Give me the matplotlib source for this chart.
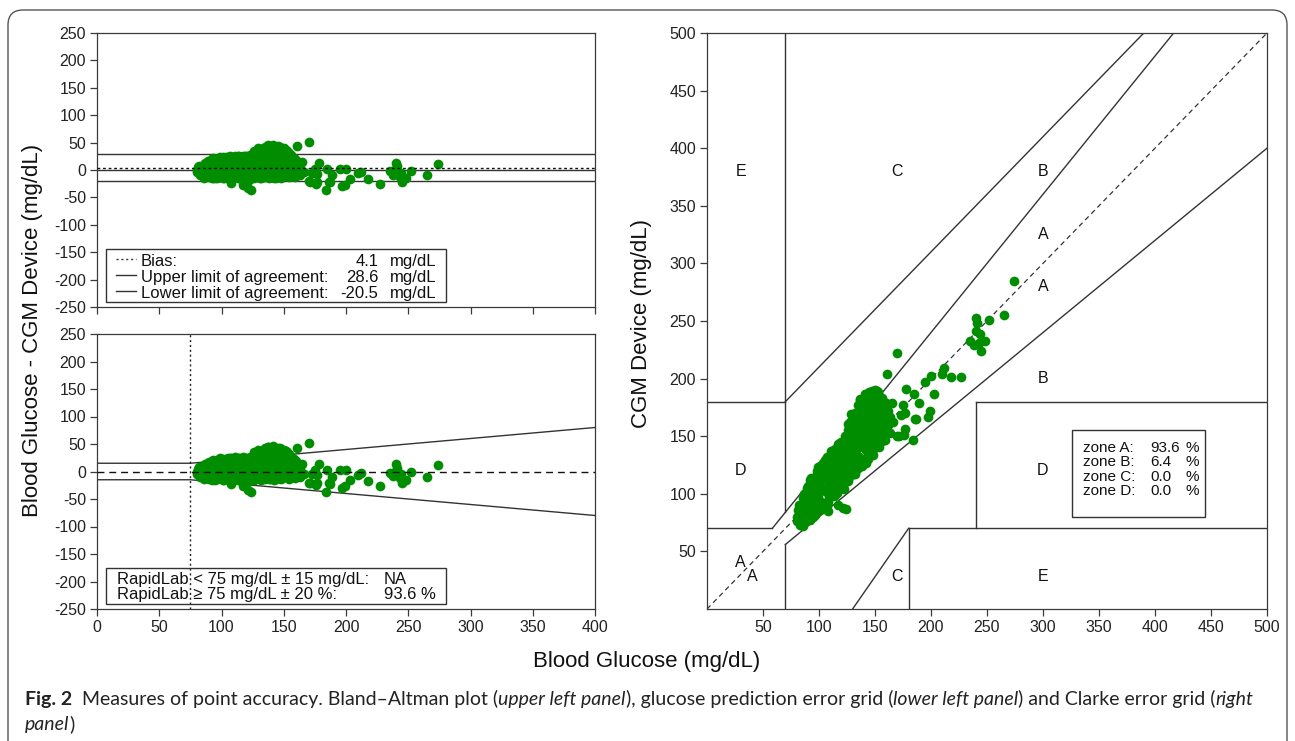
import matplotlib
matplotlib.use('Agg')
import matplotlib.pyplot as plt
from matplotlib.patches import Rectangle, FancyBboxPatch

plt.rcParams['font.family'] = ['Liberation Sans', 'DejaVu Sans']
plt.rcParams['axes.unicode_minus'] = False

# ---------------- data ----------------
# reference blood glucose (mg/dL)
bg = [
    80, 80, 81, 82, 82, 83,
    85, 85, 86, 86, 88, 88, 88, 89,
    91, 91, 91, 92, 92, 94, 94, 95, 95,
    97, 97, 97, 98, 100, 100, 100, 101, 101,
    103, 103, 103, 104, 106, 106, 106, 107, 107,
    109, 109, 109, 109, 112, 112, 112, 113, 113,
    115, 115, 115, 116, 116, 118, 118, 118, 119,
    121, 121, 121, 121, 122, 124, 124, 124, 125,
    127, 127, 127, 127, 128, 130, 130, 130, 130, 131, 131,
    133, 133, 133, 133, 133, 136, 136, 136, 136, 137, 137,
    139, 139, 139, 139, 139, 142, 142, 142, 142, 142, 142,
    145, 145, 145, 145, 145, 148, 148, 148, 148, 148, 148,
    151, 151, 151, 151, 151, 154, 154, 154, 154, 154,
    157, 157, 157, 157, 160, 160, 160, 161, 163, 163, 165, 166,
    84, 84, 84, 87, 87, 87, 87,
    90, 90, 90, 90, 93, 93, 93, 93, 93,
    96, 96, 96, 96, 99, 99, 99, 99, 99,
    102, 102, 102, 102, 102, 105, 105, 105, 105, 105,
    108, 108, 108, 108, 108, 111, 111, 111, 111, 111,
    114, 114, 114, 114, 114, 117, 117, 117, 117, 117,
    120, 120, 120, 120, 120, 123, 123, 123, 123, 123,
    126, 126, 126, 126, 126, 126, 129, 129, 129, 129, 129, 129,
    132, 132, 132, 132, 132, 132, 135, 135, 135, 135, 135, 135,
    138, 138, 138, 138, 138, 138, 141, 141, 141, 141, 141, 141,
    144, 144, 144, 144, 144, 144, 147, 147, 147, 147, 147, 147,
    150, 150, 150, 150, 150, 153, 153, 153, 153, 153,
    156, 156, 156, 156, 159, 159, 159, 162, 162,
    170, 161, 178, 185, 195, 200, 184, 197, 199, 203, 210, 212,
    218, 227, 189, 187, 177, 173, 176, 171, 175, 177, 186, 170,
    240, 241, 235, 238, 244, 245, 248, 252, 265, 274, 240, 243,
    124, 121, 117, 108, 152, 141, 137, 158,
]
# difference between the CGM device and blood glucose (mg/dL)
diff = [
    0, -4, 5, -3, 8, -10,
    2, -6, 10, -14, 0, 12, -8, 16,
    4, -10, 14, 20, -15, -4, 8, 19, -15,
    0, 12, -12, 22, -6, 6, 17, 23, -15,
    2, 14, -12, 23, -4, 8, 19, -18, 25,
    0, 12, 22, -12, -6, 6, 17, 25, -15,
    2, 14, -12, 23, -15, -4, 8, 19, 25,
    0, 12, 22, -13, -18, -6, 6, 17, 26,
    2, 14, 25, -12, 34, -4, 8, 20, 31, 38, -14,
    0, 12, 23, 34, -12, -6, 6, 18, 29, 40, 44,
    2, 14, 25, 37, -13, -4, 8, 20, 31, 42, -15,
    0, 12, 23, 34, 43, -6, 6, 18, 29, 38, -14,
    2, 14, 25, 36, -10, -4, 8, 19, 31, -13,
    0, 11, 21, -8, -2, 9, 19, -6, 4, -10, 14, -4,
    -2, 6, -9, 4, -4, 13, -11,
    -3, 8, 17, -13, 1, 11, -8, 21, -14,
    -6, 5, 16, -14, -2, 9, 19, -12, 24,
    -9, 2, 11, 21, -15, -3, 8, 14, 24, -13,
    -7, 5, 16, 24, -15, 0, 11, 21, -11, 26,
    -6, 8, 18, 25, -15, -1, 11, 22, -9, 26,
    -7, 6, 17, 25, -15, -1, 11, 22, -10, 27,
    -8, 8, 19, 29, -15, 35, -2, 11, 24, 33, -10, 40,
    -9, 5, 17, 28, 38, -15, -2, 11, 23, 34, 42, -13,
    -8, 8, 20, 31, 40, -14, -1, 13, 26, 36, 44, -11,
    -9, 6, 18, 29, 39, -14, -1, 12, 24, 34, 42, -11,
    -5, 7, 19, 31, 40, -8, 3, 14, 25, 35,
    -10, 5, 16, 27, -12, 3, 14, -2, 10,
    52, 43, 13, 2, 2, 2, -37, -30, -27, -16, -6, -3,
    -17, -26, -10, -22, -21, -5, -25, -21, 2, -7, -21, -20,
    13, 7, -2, -9, -5, -21, -15, -1, -10, 11, 1, -12,
    -37, -33, -27, -23, 37, 46, 45, 22,
]
cgm = [b + d for b, d in zip(bg, diff)]

# Bland-Altman statistics
bias, upper_loa, lower_loa = 4.1, 28.6, -20.5
# glucose prediction error grid limits
peg_x = [0, 75, 400]
peg_limit = [15, 15, 80]
peg_cut = 75
# Clarke error grid zone boundaries (x0, y0, x1, y1)
clarke_segments = [
    (0, 70, 175 / 3, 70), (175 / 3, 70, 500 / 1.2, 500), (70, 84, 70, 500),
    (0, 180, 70, 180), (70, 180, 390, 500), (70, 0, 70, 56), (70, 56, 500, 400),
    (180, 0, 180, 70), (180, 70, 500, 70), (240, 70, 240, 180),
    (240, 180, 500, 180), (130, 0, 180, 70),
]
zone_labels = [
    ("E", 30, 380), ("C", 170, 380), ("B", 300, 380), ("A", 300, 325),
    ("A", 300, 280), ("B", 300, 200), ("D", 30, 120), ("D", 300, 120),
    ("A", 30, 40), ("A", 40, 28), ("C", 170, 28), ("E", 300, 28),
]
zone_names = ["zone A:", "zone B:", "zone C:", "zone D:"]
zone_pct = ["93.6", "6.4", "0.0", "0.0"]

GREEN = '#008e00'
LINE = '#333333'
MS = 7.0
W, H = 1295, 741

fig = plt.figure(figsize=(W / 100, H / 100), dpi=100)


def frac(x0, y0, x1, y1):
    return [x0 / W, 1 - y1 / H, (x1 - x0) / W, (y1 - y0) / H]


def style(ax):
    for s in ax.spines.values():
        s.set_linewidth(0.9)
        s.set_color('#3a3a3a')
    ax.tick_params(direction='out', length=5, width=0.9, color='#3a3a3a',
                   labelsize=11.5, labelcolor='#222222', pad=3)


ax1 = fig.add_axes(frac(97, 33, 595, 307))
ax2 = fig.add_axes(frac(97, 334, 595, 609))
ax3 = fig.add_axes(frac(707, 33, 1267, 609))
for ax in (ax1, ax2, ax3):
    style(ax)

# ---------------- upper left: Bland-Altman ----------------
ax1.set_xlim(0, 400)
ax1.set_ylim(-250, 250)
ax1.set_xticks(range(0, 401, 50))
ax1.set_yticks(range(-250, 251, 50))
ax1.tick_params(labelbottom=False)
for v in (upper_loa, lower_loa, 0):
    ax1.axhline(v, color=LINE, lw=1.0, zorder=1)
ax1.plot(bg, diff, 'o', color=GREEN, ms=MS, mec='none', zorder=2)
ax1.axhline(bias, color='#111111', lw=1.0, ls=(0, (2, 2)), zorder=3)
ax1.add_patch(Rectangle((7.5, -241), 272.5, 96, fill=False, ec=LINE, lw=1.0, zorder=4))
rows = [("Bias:", bias, (0, (1.5, 2))), ("Upper limit of agreement:", upper_loa, '-'),
        ("Lower limit of agreement:", lower_loa, '-')]
for i, (lab, val, ls) in enumerate(rows):
    y = -167 - i * 29
    ax1.plot([15, 31], [y + 4, y + 4], color=LINE, lw=1.0, ls=ls, zorder=5)
    ax1.text(35, y, lab, fontsize=12, va='center', color='#111111', zorder=5)
    ax1.text(226, y, f"{val:.1f}", fontsize=12, va='center', ha='right', color='#111111', zorder=5)
    ax1.text(235.5, y, "mg/dL", fontsize=12, va='center', color='#111111', zorder=5)

# ---------------- lower left: prediction error grid ----------------
ax2.set_xlim(0, 400)
ax2.set_ylim(-250, 250)
ax2.set_xticks(range(0, 401, 50))
ax2.set_yticks(range(-250, 251, 50))
ax2.plot(peg_x, peg_limit, color=LINE, lw=1.0, zorder=1)
ax2.plot(peg_x, [-v for v in peg_limit], color=LINE, lw=1.0, zorder=1)
ax2.axvline(peg_cut, color='#222222', lw=1.0, ls=(0, (1.5, 2)), zorder=1)
ax2.plot(bg, diff, 'o', color=GREEN, ms=MS, mec='none', zorder=2)
ax2.axhline(0, color='#111111', lw=1.0, ls=(0, (5, 3.5)), zorder=3)
ax2.add_patch(Rectangle((7.5, -240), 272.5, 65, fill=False, ec=LINE, lw=1.0, zorder=4))
ax2.text(16, -196, "RapidLab < 75 mg/dL ± 15 mg/dL:", fontsize=12, va='center', color='#111111', zorder=5)
ax2.text(230.5, -196, "NA", fontsize=12, va='center', color='#111111', zorder=5)
ax2.text(16, -224, "RapidLab ≥ 75 mg/dL ± 20 %:", fontsize=12, va='center', color='#111111', zorder=5)
ax2.text(230.5, -224, "93.6 %", fontsize=12, va='center', color='#111111', zorder=5)

# ---------------- right: Clarke error grid ----------------
ax3.set_xlim(0, 500)
ax3.set_ylim(0, 500)
ax3.set_xticks(range(50, 501, 50))
ax3.set_yticks(range(50, 501, 50))
ax3.plot([0, 500], [0, 500], color='#333333', lw=0.9, ls=(0, (4, 3)), zorder=1)
for x0, y0, x1, y1 in clarke_segments:
    ax3.plot([x0, x1], [y0, y1], color=LINE, lw=1.0, zorder=1)
for s, x, y in zone_labels:
    ax3.text(x, y, s, fontsize=11.5, ha='center', va='center', color='#111111')
ax3.plot(bg, cgm, 'o', color=GREEN, ms=MS, mec='none', zorder=2)
ax3.add_patch(Rectangle((325.5, 80), 119.5, 75, fill=False, ec=LINE, lw=1.0, zorder=4))
for i, (n, p) in enumerate(zip(zone_names, zone_pct)):
    y = 139.5 - i * 12.3
    ax3.text(335.5, y, n, fontsize=11, va='center', color='#111111', zorder=5)
    ax3.text(395.5, y, p, fontsize=11, va='center', color='#111111', zorder=5)
    ax3.text(439.5, y, "%", fontsize=11, va='center', ha='right', color='#111111', zorder=5)

# ---------------- axis titles ----------------
fig.text(33 / W, 1 - 330 / H, "Blood Glucose - CGM Device (mg/dL)", rotation=90,
         fontsize=16, ha='center', va='center', color='#111111')
fig.text(641 / W, 1 - 323 / H, "CGM Device (mg/dL)", rotation=90,
         fontsize=16, ha='center', va='center', color='#111111')
fig.text(647 / W, 1 - 662 / H, "Blood Glucose (mg/dL)",
         fontsize=16, ha='center', va='center', color='#111111')

# ---------------- outer rounded frame ----------------
frame = FancyBboxPatch((0.08, -0.3), 12.79, 7.61, boxstyle="round,pad=0,rounding_size=0.15",
                       transform=fig.dpi_scale_trans, fill=False, ec='#555555', lw=1.0,
                       clip_on=False)
fig.add_artist(frame)

# ---------------- caption ----------------
cap = fig.add_axes([0, 0, 1, 1], zorder=-5)
cap.axis('off')
CF = ['Lato', 'DejaVu Sans']
CS = 14
line1 = [("Fig. 2", 'normal', 'bold'),
         ("  Measures of point accuracy. Bland–Altman plot (", 'normal', 'normal'),
         ("upper left panel", 'italic', 'normal'),
         ("), glucose prediction error grid (", 'normal', 'normal'),
         ("lower left panel", 'italic', 'normal'),
         (") and Clarke error grid (", 'normal', 'normal'),
         ("right", 'italic', 'normal')]
line2 = [("panel", 'italic', 'normal'), (")", 'normal', 'normal')]
for pieces, ypx in ((line1, 708), (line2, 733)):
    prev = None
    for s, st, wt in pieces:
        if prev is None:
            prev = cap.text(25 / W, 1 - ypx / H, s, transform=fig.transFigure, family=CF,
                            fontsize=CS, style=st, weight=wt, va='bottom', ha='left',
                            color='#222222')
        else:
            prev = cap.annotate(s, xy=(1, 0), xycoords=prev, va='bottom', ha='left',
                                family=CF, fontsize=CS, style=st, weight=wt,
                                color='#222222', annotation_clip=False)

fig.savefig('out.png', dpi=100)
